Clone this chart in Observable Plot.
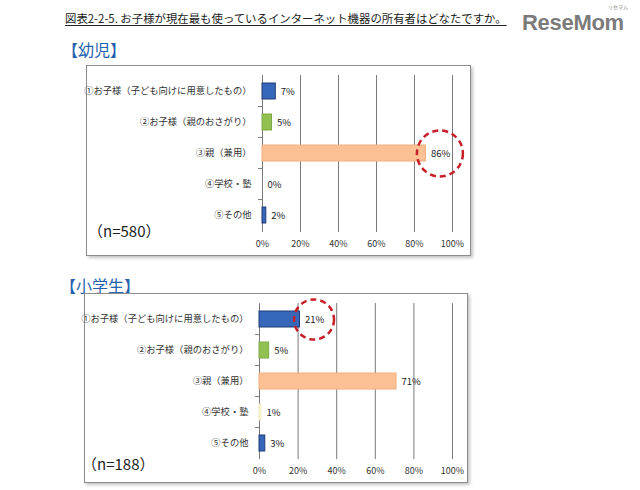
<!DOCTYPE html>
<html><head><meta charset="utf-8">
<script src="https://cdn.jsdelivr.net/npm/d3@7"></script>
<script src="https://cdn.jsdelivr.net/npm/@observablehq/plot@0.6"></script>
<style>
body{margin:0;background:#fff;}
#page{position:relative;width:640px;height:490px;overflow:hidden;font-family:"Noto Sans CJK JP",sans-serif;background:#fff;}
.title{position:absolute;left:65px;top:11px;font-size:11.4px;line-height:14px;color:#222;text-decoration:underline;text-underline-offset:2px;white-space:nowrap;}
.logo{position:absolute;left:522px;top:10px;font-family:"Liberation Sans",Arial,sans-serif;font-weight:bold;font-size:22px;color:#7b7b7b;letter-spacing:-0.3px;line-height:26px;}
.logo small{position:absolute;left:86px;top:-6px;font-size:5px;line-height:6px;font-weight:normal;font-family:"Noto Sans CJK JP";letter-spacing:0;white-space:nowrap;}
.head{position:absolute;font-size:16px;color:#2462ad;font-weight:400;white-space:nowrap;}
.box{position:absolute;border:1px solid #8c8c8c;box-shadow:2px 2px 3px #c4c4c4;background:#fff;}
.box svg{position:absolute;left:0;top:0;}
.n{position:absolute;font-size:15px;color:#222;white-space:nowrap;}
</style></head>
<body><div id="page">
<div class="title">図表2-2-5. お子様が現在最も使っているインターネット機器の所有者はどなたですか。</div>
<div class="logo">ReseMom<small>リセマム</small></div>
<div class="head" style="left:62px;top:37px;">【幼児】</div>
<div class="box" id="box1" style="left:86px;top:65px;width:383px;height:189px;"><div class="n" style="left:1px;top:154px;">（n=580）</div></div>
<div class="head" style="left:60px;top:273px;">【小学生】</div>
<div class="box" id="box2" style="left:84px;top:293px;width:382px;height:188px;"><div class="n" style="left:-3px;top:159px;">（n=188）</div></div>
</div>
<script>
const categories = ["①お子様（子ども向けに用意したもの）","②お子様（親のおさがり）","③親（兼用）","④学校・塾","⑤その他"];
const infantValues = [7, 5, 86, 0, 2];
const schoolValues = [21, 5, 71, 1, 3];
const xTicks = [0, 20, 40, 60, 80, 100];
const barFills = ["#3767b8", "#92c152", "#fbc093", "#fbfbd8", "#3767b8"];
const barStrokes = ["#1e3c78", "#7eaa44", "#f0b080", "#ececc0", "#1e3c78"];
const infantHighlight = "③親（兼用）";
const schoolHighlight = "①お子様（子ども向けに用意したもの）";
const PAD_INNER = 0.48;

function boundaryTicks(index, scales, values, dimensions) {
  const y = scales.y, x = scales.x;
  const g = d3.create("svg:g");
  const step = typeof y.step === "function" ? y.step() : (y(categories[1]) - y(categories[0]));
  const x0 = x(0);
  for (let i = 1; i < categories.length; i++) {
    const yy = y(categories[i]) - step * PAD_INNER / 2;
    g.append("line").attr("x1", x0 - 4).attr("x2", x0).attr("y1", yy).attr("y2", yy)
      .attr("stroke", "#7a7a7a");
  }
  return g.node();
}

function chart(values, highlight, w, h, m, r) {
  const data = categories.map((c, i) => ({category: c, value: values[i], i}));
  return Plot.plot({
    width: w, height: h,
    marginLeft: m[0], marginRight: m[1], marginTop: m[2], marginBottom: m[3],
    style: {fontFamily: '"Noto Sans CJK JP", sans-serif', background: "transparent", color: "#333", overflow: "visible"},
    x: {domain: [0, 100], label: null},
    y: {domain: categories, paddingInner: PAD_INNER, paddingOuter: PAD_INNER / 2, label: null},
    marks: [
      Plot.ruleX(xTicks, {stroke: "#7a7a7a", strokeWidth: 1, strokeOpacity: 1}),
      boundaryTicks,
      Plot.barX(data.filter(d => d.value > 0), {x: "value", y: "category", fill: d => barFills[d.i], stroke: d => barStrokes[d.i], strokeWidth: 1}),
      Plot.text(data, {x: "value", y: "category", text: d => d.value + "%", dx: 5, textAnchor: "start", fontSize: 9.5, fill: "#222"}),
      Plot.dot(data.filter(d => d.category === highlight), {x: "value", y: "category", r: r, dx: 14, stroke: "#c8202a", strokeWidth: 2.5, strokeDasharray: "6,4", fill: "none"}),
      Plot.axisX({ticks: xTicks, tickFormat: d => d + "%", tickSize: 0, tickPadding: 8, fontSize: 9, label: null}),
      Plot.axisY({tickSize: 0, tickPadding: 11, fontSize: 9.3, label: null})
    ]
  });
}

document.getElementById("box1").appendChild(chart(infantValues, infantHighlight, 383, 189, [175, 18, 9, 23], 23));
document.getElementById("box2").appendChild(chart(schoolValues, schoolHighlight, 382, 188, [174, 15, 9, 23], 20));
</script>
</body></html>
